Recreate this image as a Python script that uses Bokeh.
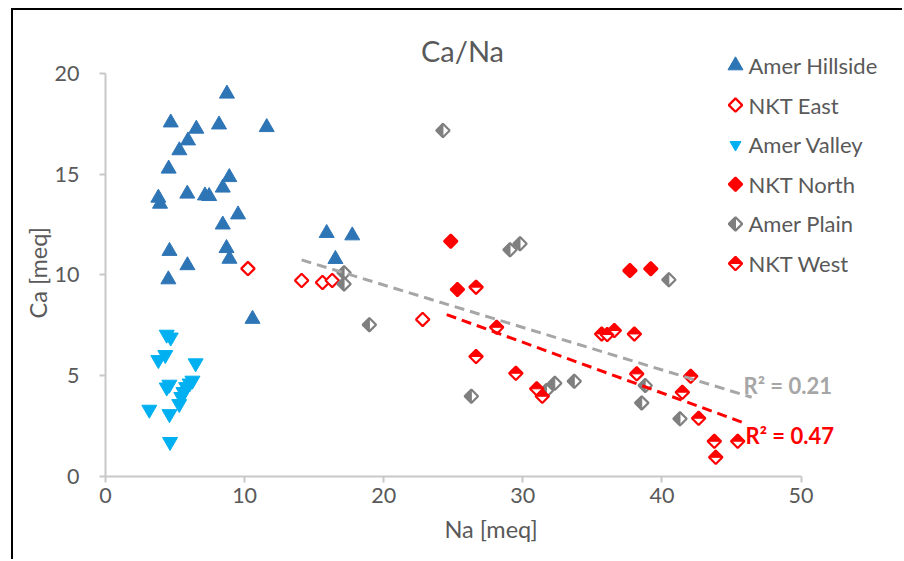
import numpy as np
from bokeh.plotting import figure
from bokeh.models import Range1d, FixedTicker, Label, Title
from bokeh.core.properties import value
from bokeh.embed import file_html
from bokeh.resources import INLINE

# ---------------- data ----------------
hill_x = [8.73, 4.69, 6.53, 8.16, 11.59, 5.93, 5.31, 4.54, 8.9, 8.43, 3.8, 3.92, 5.88, 7.15,
          7.45, 9.53, 8.43, 4.6, 8.7, 8.91, 5.89, 4.52, 10.57, 15.9, 17.74, 16.53]
hill_y = [18.98, 17.55, 17.24, 17.45, 17.32, 16.66, 16.17, 15.26, 14.84, 14.32, 13.82, 13.52, 14.02, 13.93,
          13.9, 12.99, 12.49, 11.18, 11.32, 10.79, 10.47, 9.77, 7.81, 12.07, 11.95, 10.78]

valley_x = [4.4, 4.69, 4.3, 3.8, 6.48, 4.59, 4.4, 6.25, 6.05, 5.8, 5.6, 5.45, 5.3, 3.15, 4.6, 4.64]
valley_y = [7.04, 6.9, 6.03, 5.78, 5.62, 4.56, 4.42, 4.76, 4.62, 4.44, 4.2, 3.95, 3.6, 3.32, 3.1, 1.72]

east_x = [10.24, 14.1, 15.6, 16.3, 22.8]
east_y = [10.31, 9.72, 9.62, 9.72, 7.79]

north_x = [24.82, 25.3, 37.7, 39.2]
north_y = [11.67, 9.27, 10.21, 10.3]

plain_x = [24.26, 29.08, 29.8, 40.5, 17.15, 17.15, 18.97, 26.3, 31.7, 32.3, 33.7, 38.8, 38.55, 41.3]
plain_y = [17.16, 11.24, 11.54, 9.76, 10.1, 9.55, 7.53, 3.98, 4.26, 4.62, 4.72, 4.51, 3.65, 2.86]

west_x = [26.64, 28.12, 26.64, 29.5, 31.0, 31.4, 35.67, 36.07, 36.58, 38.02, 38.19, 42.07, 41.47,
          42.64, 43.77, 43.87, 45.45]
west_y = [9.39, 7.4, 5.95, 5.12, 4.35, 3.98, 7.07, 7.04, 7.24, 7.07, 5.09, 4.97, 4.18,
          2.89, 1.75, 0.95, 1.75]

trend_plain_x = [14.1, 46.45]
trend_plain_y = [10.74, 3.93]
trend_west_x = [24.53, 46.1]
trend_west_y = [8.03, 2.61]
r2_plain = "R² = 0.21"
r2_west = "R² = 0.47"

series_names = ["Amer Hillside", "NKT East", "Amer Valley", "NKT North", "Amer Plain", "NKT West"]
x_ticks = [0, 10, 20, 30, 40, 50]
y_ticks = [0, 5, 10, 15, 20]
title_text = "Ca/Na"
x_label = "Na [meq]"
y_label = "Ca [meq]"

# ---------------- styles / layout ----------------
OX, OY = 13, 10                      # figure offset inside the dark frame
W, H = 904 - OX, 561 - OY
BL, BR, BT, BB = 105 - OX, 0, 20 - OY, 85
FW, FH = W - BL - BR, H - BT - BB
PXX = 695.5 / 50.0      # pixels per Na unit
PXY = 403.3 / 20.0      # pixels per Ca unit
X_END = FW / PXX
Y_END = FH / PXY
FRAME_BOTTOM_PAGE = OY + H - BB      # page pixel of Ca = 0

def px2x(px):           # page pixel -> Na
    return (px - OX - BL) / PXX

def px2y(py):           # page pixel -> Ca
    return (FRAME_BOTTOM_PAGE - py) / PXY

BLUE = "#2E75B6"
CYAN = "#00B0F0"
RED = "#FF0000"
GRAY = "#7F7F7F"
TXT = "#595959"
AX = "#C8C8C8"
FONT = "Lato"

p = figure(width=W, height=H, output_backend="svg", toolbar_location=None,
           x_range=Range1d(0, X_END), y_range=Range1d(0, Y_END),
           min_border_left=BL, min_border_right=BR, min_border_top=BT, min_border_bottom=BB)
p.margin = (OY, 0, 0, OX)
p.styles = {"box-shadow": "-2px -2px 0px 0px #000000"}
p.outline_line_color = None
p.grid.visible = False
p.background_fill_color = "white"
p.border_fill_color = "white"

for ax, ticks in ((p.xaxis[0], x_ticks), (p.yaxis[0], y_ticks)):
    ax.ticker = FixedTicker(ticks=ticks)
    ax.bounds = (ticks[0], ticks[-1])
    ax.axis_line_color = AX
    ax.axis_line_width = 2
    ax.major_tick_line_color = AX
    ax.major_tick_line_width = 2
    ax.major_tick_in = 0
    ax.major_tick_out = 6
    ax.minor_tick_line_color = None
    ax.major_label_text_font = FONT
    ax.major_label_text_font_size = "21.5px"
    ax.major_label_text_color = TXT
p.xaxis.major_label_standoff = 5
p.yaxis.major_label_standoff = 20

# axis titles (Excel places them on the plot area, offset from the frame edge in px)
p.add_layout(Title(text=x_label, align="left", offset=444 - 105, text_font=FONT, text_font_size="23.5px",
                   text_font_style="normal", text_color=TXT, standoff=14), "below")
p.add_layout(Title(text=y_label, align="left", offset=476 - 318, text_font=FONT, text_font_size="23.5px",
                   text_font_style="normal", text_color=TXT, standoff=0), "left")

MS = 9.5                 # rotated-square (diamond) side, px
HD = MS / np.sqrt(2)     # half diagonal, px
DX, DY = HD / PXX, HD / PXY

def half_diamonds(xs, ys, side):
    xs_out, ys_out = [], []
    for x, y in zip(xs, ys):
        if side == "left":
            xs_out.append([x, x - DX, x])
            ys_out.append([y + DY, y, y - DY])
        else:  # top half
            xs_out.append([x - DX, x, x + DX])
            ys_out.append([y, y + DY, y])
    return xs_out, ys_out

def draw_series(name, xs, ys, legend=False):
    if name == "Amer Hillside":
        p.scatter(xs, ys, marker="triangle", size=15, fill_color=BLUE, line_color=BLUE, line_width=1)
    elif name == "Amer Valley":
        sz = 11 if legend else 15
        p.scatter(xs, ys, marker="inverted_triangle", size=sz, fill_color=CYAN, line_color=CYAN, line_width=1)
    elif name == "NKT East":
        p.scatter(xs, ys, marker="square", angle=np.pi / 4, size=MS, fill_color="white",
                  line_color=RED, line_width=2.2)
    elif name == "NKT North":
        p.scatter(xs, ys, marker="square", angle=np.pi / 4, size=MS, fill_color=RED,
                  line_color=RED, line_width=2.2)
    elif name == "Amer Plain":
        p.scatter(xs, ys, marker="square", angle=np.pi / 4, size=MS, fill_color="white",
                  line_color=GRAY, line_width=2.2)
        hx, hy = half_diamonds(xs, ys, "left")
        p.patches(hx, hy, fill_color=GRAY, line_color=GRAY, line_width=1)
    elif name == "NKT West":
        p.scatter(xs, ys, marker="square", angle=np.pi / 4, size=MS, fill_color="white",
                  line_color=RED, line_width=2.2)
        hx, hy = half_diamonds(xs, ys, "top")
        p.patches(hx, hy, fill_color=RED, line_color=RED, line_width=1)

series_data = {
    "Amer Hillside": (hill_x, hill_y),
    "NKT East": (east_x, east_y),
    "Amer Valley": (valley_x, valley_y),
    "NKT North": (north_x, north_y),
    "Amer Plain": (plain_x, plain_y),
    "NKT West": (west_x, west_y),
}
for nm in series_names:
    draw_series(nm, *series_data[nm])

p.line(trend_plain_x, trend_plain_y, line_color="#A6A6A6", line_width=3, line_dash="10 6")
p.line(trend_west_x, trend_west_y, line_color=RED, line_width=3, line_dash="10 6")

p.text([px2x(743)], [px2y(385)], text=[r2_plain], text_font=value(FONT), text_font_size="22px",
       text_font_style="bold", text_color="#A6A6A6", text_baseline="middle", text_align="left")
p.text([px2x(745)], [px2y(435)], text=[r2_west], text_font=value(FONT), text_font_size="22px",
       text_font_style="bold", text_color=RED, text_baseline="middle", text_align="left")

# ---------------- legend (drawn by hand so half-filled markers show) ----------------
LEG_MX, LEG_TX, LEG_Y0, LEG_STEP = 735, 748, 65, 39.6
for i, nm in enumerate(series_names):
    yy = px2y(LEG_Y0 + i * LEG_STEP)
    draw_series(nm, [px2x(LEG_MX)], [yy], legend=True)
    p.text([px2x(LEG_TX)], [yy], text=[nm], text_font=value(FONT), text_font_size="22px",
           text_color=TXT, text_baseline="middle", text_align="left")

# chart title
p.add_layout(Label(x=px2x(462), y=px2y(50), text=title_text, text_align="center",
                   text_baseline="middle", text_font=FONT, text_font_size="29px", text_color=TXT))

open("out.html", "w").write(file_html(p, INLINE))
